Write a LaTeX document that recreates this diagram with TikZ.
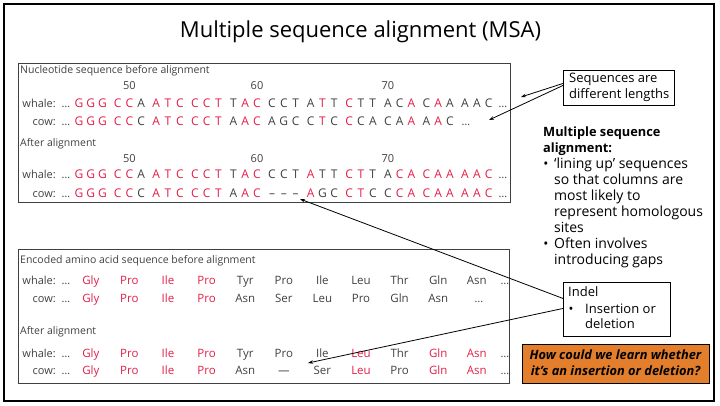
\documentclass[tikz,border=0pt]{standalone}
\usepackage{fontspec}
\setmainfont{Open Sans}
\usetikzlibrary{arrows.meta}
\definecolor{seqred}{RGB}{226,30,72}
\definecolor{seqgray}{RGB}{64,64,64}
\definecolor{askorange}{RGB}{226,126,44}
\colorlet{R}{seqred}
\colorlet{K}{seqgray}

% one row of nucleotides, grouped in codons
\newcommand\ntrow[3]{%
  \foreach \ch/\cl [count=\i from 0] in {#3} {%
    \pgfmathsetmacro\ntx{79+int(\i/3)*38.6+mod(\i,3)*11.8}%
    \node[ntchar,text=\cl] (#1-\i) at (\ntx,#2) {\ch};
  }}
% one row of amino acids, one per codon column
\newcommand\aarow[3]{%
  \foreach \aa/\cl [count=\i from 0] in {#3} {%
    \pgfmathsetmacro\aax{90.8+\i*38.6}%
    \node[aachar,text=\cl] (#1-\i) at (\aax,#2) {\aa};
  }}

\begin{document}
\begin{tikzpicture}[x=1pt,y=-1pt,
  ntchar/.style={font=\fontsize{12}{12}\selectfont, anchor=base, inner sep=0pt},
  aachar/.style={font=\fontsize{11.5}{12}\selectfont, anchor=base, inner sep=0pt},
  lbl/.style={font=\fontsize{11}{12}\selectfont, text=seqgray, anchor=base east, inner sep=0pt},
  dots/.style={font=\fontsize{11}{12}\selectfont, text=seqgray, anchor=base, inner sep=0pt},
  head/.style={font=\fontsize{10.5}{12}\selectfont, text=seqgray, anchor=base west, inner sep=0pt},
  numlbl/.style={font=\fontsize{11}{12}\selectfont, text=seqgray, anchor=base, inner sep=0pt},
  panel/.style={draw=black!75, line width=0.9pt, anchor=north west, inner sep=0pt},
  callout/.style={draw=black, line width=0.9pt, fill=white, anchor=north west, inner sep=0pt},
  note/.style={font=\fontsize{14}{16}\selectfont, anchor=base west, inner sep=0pt},
  notebold/.style={font=\fontsize{12.8}{16}\selectfont\bfseries, anchor=base west, inner sep=0pt},
  bul/.style={font=\fontsize{13.5}{16}\selectfont, anchor=base, inner sep=0pt},
  ask/.style={font=\fontsize{12.8}{16}\selectfont\bfseries\itshape, anchor=base, inner sep=0pt},
  pointer/.style={-{Stealth[length=5pt,width=3.5pt]}, line width=0.8pt}]

\useasboundingbox (0,0) rectangle (720,405);
\draw[line width=1.2pt] (4,4) rectangle (714,401);

\node[font=\fontsize{22}{26}\selectfont, anchor=base, inner sep=0pt] (title) at (360.5,37) {Multiple sequence alignment (MSA)};

% ---- nucleotide panel ----
\node[panel, minimum width=492pt, minimum height=139pt] (ntpanel) at (18,63) {};
\node[head] (nthead) at (20,73) {Nucleotide sequence before alignment};
\node[numlbl] (nb50) at (129.4,89) {50};
\node[numlbl] (nb60) at (257,89) {60};
\node[numlbl] (nb70) at (387.8,89) {70};
\node[lbl] (nbwl) at (56,107) {whale:};
\node[dots] (nbwd) at (66,107) {\dots};
\node[lbl] (nbcl) at (56,125) {cow:};
\node[dots] (nbcd) at (66,125) {\dots};
\ntrow{nbw}{107}{G/R,G/R,G/R,C/R,C/R,A/K,A/R,T/R,C/R,C/R,C/R,T/R,T/K,A/R,C/R,C/K,C/K,T/K,A/K,T/R,T/K,C/R,T/K,T/K,A/K,C/K,A/R,C/K,A/R,A/K,A/K,A/K,C/K}
\node[dots] (nbwe) at (503,107) {\dots};
\ntrow{nbc}{125}{G/R,G/R,G/R,C/R,C/R,C/K,A/R,T/R,C/R,C/R,C/R,T/R,A/K,A/R,C/R,A/K,G/K,C/K,C/K,T/R,C/K,C/R,C/K,A/K,C/K,A/K,A/R,A/K,A/R,C/K}
\node[dots] (nbce) at (466,125) {\dots};

\node[head] (nahead) at (20,146) {After alignment};
\node[numlbl] (na50) at (129.4,162) {50};
\node[numlbl] (na60) at (257,162) {60};
\node[numlbl] (na70) at (387.8,162) {70};
\node[lbl] (nawl) at (56,178) {whale:};
\node[dots] (nawd) at (66,178) {\dots};
\node[lbl] (nacl) at (56,197) {cow:};
\node[dots] (nacd) at (66,197) {\dots};
\ntrow{naw}{178}{G/R,G/R,G/R,C/R,C/R,A/K,A/R,T/R,C/R,C/R,C/R,T/R,T/K,A/R,C/R,C/K,C/K,T/K,A/R,T/K,T/K,C/R,T/R,T/K,A/K,C/R,A/R,C/R,A/R,A/R,A/R,A/R,C/R}
\node[dots] (nawe) at (503,178) {\dots};
\ntrow{nac}{197}{G/R,G/R,G/R,C/R,C/R,C/K,A/R,T/R,C/R,C/R,C/R,T/R,A/K,A/R,C/R,--/K,--/K,--/K,A/R,G/K,C/K,C/R,T/R,C/K,C/K,C/R,A/R,C/R,A/R,A/R,A/R,A/R,C/R}
\node[dots] (nace) at (503,197) {\dots};

% ---- amino acid panel ----
\node[panel, minimum width=491pt, minimum height=134pt] (aapanel) at (18,249) {};
\node[head] (abhead) at (20,263) {Encoded amino acid sequence before alignment};
\node[lbl] (abwl) at (56,284) {whale:};
\node[dots] (abwd) at (66,284) {\dots};
\node[lbl] (abcl) at (56,302) {cow:};
\node[dots] (abcd) at (66,302) {\dots};
\aarow{abw}{284}{Gly/R,Pro/R,Ile/R,Pro/R,Tyr/K,Pro/K,Ile/K,Leu/K,Thr/K,Gln/K,Asn/K}
\node[dots] (abwe) at (505,284) {\dots};
\aarow{abc}{302}{Gly/R,Pro/R,Ile/R,Pro/R,Asn/K,Ser/K,Leu/K,Pro/K,Gln/K,Asn/K}
\node[dots] (abce) at (479,302) {\dots};

\node[head] (aahead) at (20,334) {After alignment};
\node[lbl] (aawl) at (56,357) {whale:};
\node[dots] (aawd) at (66,357) {\dots};
\node[lbl] (aacl) at (56,374) {cow:};
\node[dots] (aacd) at (66,374) {\dots};
\aarow{aaw}{357}{Gly/R,Pro/R,Ile/R,Pro/R,Tyr/K,Pro/K,Ile/K,Leu/R,Thr/K,Gln/R,Asn/R}
\node[dots] (aawe) at (505,357) {\dots};
\aarow{aac}{374}{Gly/R,Pro/R,Ile/R,Pro/R,Asn/K,---/K,Ser/K,Leu/R,Pro/K,Gln/R,Asn/R}
\node[dots] (aace) at (505,374) {\dots};

% ---- notes on the right ----
\node[callout, minimum width=111pt, minimum height=35pt] (lenbox) at (563,70) {};
\node[note, font=\fontsize{13}{16}\selectfont] (len1) at (569,82.5) {Sequences are};
\node[note, font=\fontsize{13}{16}\selectfont] (len2) at (569,98) {different lengths};

\node[notebold] (msa1) at (543,136) {Multiple sequence};
\node[notebold] (msa2) at (543,152) {alignment:};
\node[bul] (b1) at (546,168) {\textbullet};
\node[note] (t1) at (554,168) {‘lining up’ sequences};
\node[note] (t2) at (554,184) {so that columns are};
\node[note] (t3) at (554,200) {most likely to};
\node[note] (t4) at (554,216) {represent homologous};
\node[note] (t5) at (554,232) {sites};
\node[bul] (b2) at (546,248) {\textbullet};
\node[note] (t6) at (554,248) {Often involves};
\node[note] (t7) at (554,264) {introducing gaps};

\node[callout, minimum width=107pt, minimum height=54pt] (indelbox) at (563,282) {};
\node[note, font=\fontsize{13}{16}\selectfont] (ind1) at (568,296) {Indel};
\node[bul, font=\fontsize{13}{16}\selectfont] (ind2) at (571,313) {\textbullet};
\node[note, font=\fontsize{13}{16}\selectfont] (ind3) at (585,313) {Insertion or};
\node[note, font=\fontsize{13}{16}\selectfont] (ind4) at (585,328) {deletion};

\node[draw=black, line width=0.9pt, fill=askorange, minimum width=187pt, minimum height=39pt, anchor=north west, inner sep=0pt] (askbox) at (522,344) {};
\node[ask] (ask1) at (615.5,359) {How could we learn whether};
\node[ask] (ask2) at (615.5,375) {it’s an insertion or deletion?};

% ---- pointers ----
\coordinate (whaleend) at (521,97);
\coordinate (cowend) at (489,120);
\coordinate (gapnt) at (300,199);
\coordinate (gapaa) at (308,363);
\draw[pointer] ([yshift=4.5pt]lenbox.west) -- (whaleend);
\draw[pointer] ([yshift=2.5pt]lenbox.west) -- (cowend);
\draw[pointer] ([yshift=11pt]indelbox.west) -- (gapnt);
\draw[pointer] ([yshift=1pt]indelbox.west) -- (gapaa);
\end{tikzpicture}
\end{document}
